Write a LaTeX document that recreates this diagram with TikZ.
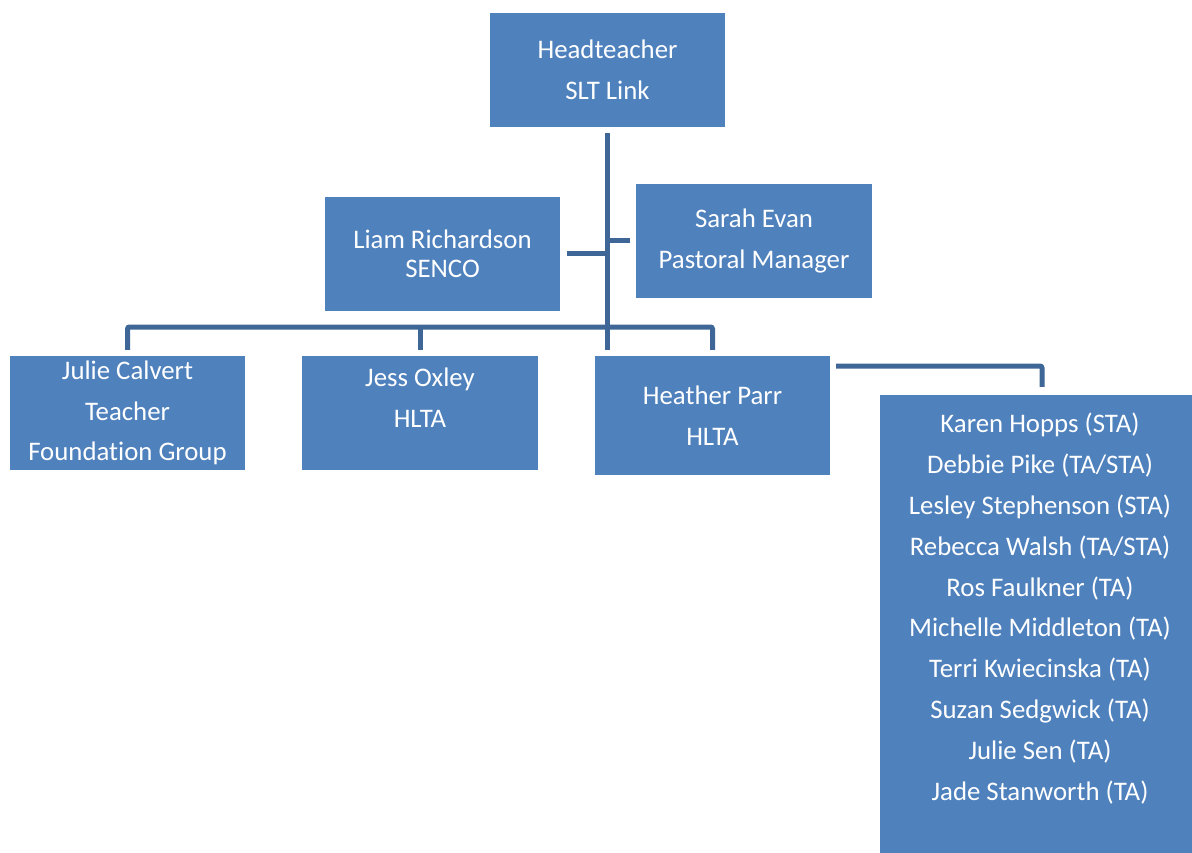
\documentclass[tikz,border=0pt]{standalone}
\usepackage{fontspec}
\setmainfont{Carlito}[Ligatures=NoCommon]
\usepackage{tikz}

\definecolor{boxblue}{HTML}{4F81BD}
\definecolor{linkblue}{HTML}{3E6797}
\newcommand{\orgfont}{\fontsize{26.8}{40.8}\selectfont}
\newcommand{\orgtight}{\fontsize{26.8}{29}\selectfont}

\begin{document}
\begin{tikzpicture}[x=1pt,y=1pt]
      \tikzstyle{box}=[fill=boxblue, inner sep=0pt, text=white, align=center, font=\orgfont]
      \tikzstyle{txt}=[inner sep=0pt, text=white, align=center, font=\orgfont]
      \tikzstyle{link}=[draw=linkblue, line width=5pt, rounded corners=2pt]
      \useasboundingbox (0,0) rectangle (1192,-853);
      % boxes
      \node [box, minimum width=235, minimum height=114] (head) at (607.5,-70) {Headteacher\\SLT Link};
      \node [box, minimum width=235, minimum height=114, font=\orgtight] (liam) at (442.5,-254) {Liam Richardson\\SENCO};
      \node [box, minimum width=236, minimum height=114] (sarah) at (754,-241) {Sarah Evan\\Pastoral Manager};
      \node [box, minimum width=235, minimum height=114] (julie) at (127.5,-413) {Julie Calvert\\Teacher\\Foundation Group};
      \node [box, minimum width=236, minimum height=114] (jess) at (420,-413) {};
      \node [txt] (jessText) at (420,-398) {Jess Oxley\\HLTA};
      \node [box, minimum width=235, minimum height=119] (heather) at (712.5,-415.5) {Heather Parr\\HLTA};
      \node [box, minimum width=312, minimum height=458] (staff) at (1036,-624) {};
      \node [txt] (staffList) at (1040,-608.5) {Karen Hopps (STA)\\Debbie Pike (TA/STA)\\Lesley Stephenson (STA)\\Rebecca Walsh (TA/STA)\\Ros Faulkner (TA)\\Michelle Middleton (TA)\\Terri Kwiecinska (TA)\\Suzan Sedgwick (TA)\\Julie Sen (TA)\\Jade Stanworth (TA)};
      % connectors
      \coordinate (bar) at (607,-327);
      \draw [link] ([yshift=-6]head.south) -- (head.south |- bar) -- ([yshift=6]heather.north -| head.south);
      \draw [link] ([xshift=7]liam.east) -- (liam.east -| head.south);
      \draw [link] ([xshift=-6]sarah.west) -- (sarah.west -| head.south);
      \draw [link] ([yshift=6]julie.north) |- (bar) -| ([yshift=6]heather.north);
      \draw [link] ([yshift=6]jess.north) -- (jess.north |- bar);
      \draw [link] ([xshift=6,yshift=49.5]heather.east) -| ([xshift=6,yshift=8]staff.north);
\end{tikzpicture}
\end{document}
